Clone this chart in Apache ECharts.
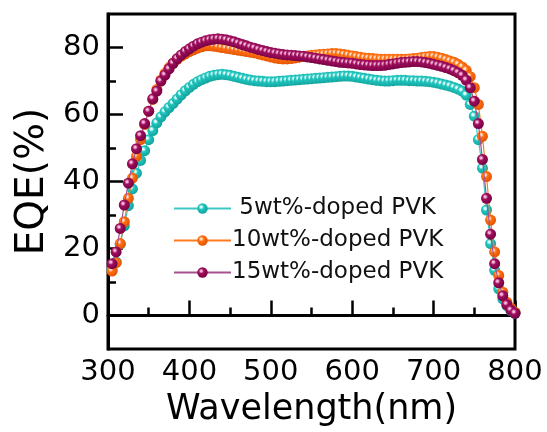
<!DOCTYPE html>
<html>
<head>
<meta charset="utf-8">
<script src="https://cdn.jsdelivr.net/npm/echarts@6/dist/echarts.min.js"></script>
<style>
html,body{margin:0;padding:0;background:#fff;}
#c{width:547px;height:432px;}
</style>
</head>
<body>
<div id="c"></div>
<script>
const wavelength = [305,310,315,320,325,330,335,340,345,350,355,360,365,370,375,380,385,390,395,400,
405,410,415,420,425,430,435,440,445,450,455,460,465,470,475,480,485,490,495,500,
505,510,515,520,525,530,535,540,545,550,555,560,565,570,575,580,585,590,595,600,
605,610,615,620,625,630,635,640,645,650,655,660,665,670,675,680,685,690,695,700,
705,710,715,720,725,730,735,740,745,750,755,760,765,770,775,780,785,790,795,800];

const eqe5 = [13.7,16,21.3,26.8,32.8,37.8,42.5,46.3,49.2,52.5,55.2,57.5,59.3,60.8,62.1,63.3,64.6,65.9,67.1,68.1,
69,69.8,70.4,70.9,71.4,71.7,71.9,72,71.9,71.7,71.4,71.1,70.8,70.5,70.3,70.1,70,69.9,69.8,69.8,
69.8,69.9,70,70.1,70.2,70.3,70.4,70.5,70.6,70.7,70.8,70.9,71,71.1,71.2,71.3,71.4,71.5,71.5,71.4,
71.2,71,70.8,70.6,70.4,70.2,70.1,70,70,70.1,70.2,70.2,70.2,70.1,70.1,70,70,69.9,69.8,69.6,
69.4,69.1,68.8,68.5,68.1,67.6,67,65.8,63,59.5,52.5,44,31.5,21.5,13.5,8,5,3,1.5,0.7];

const eqe10 = [13.3,15.8,21.5,28,35,41,47.5,52.5,57,61,64.5,67.5,70.3,72.3,74,75.3,76.5,77.4,78.1,78.8,
79.3,79.8,80.2,80.5,80.5,80.4,80.2,80,79.8,79.6,79.4,79.2,79,78.8,78.6,78.4,78.1,77.8,77.5,77.2,
76.9,76.7,76.6,76.6,76.7,76.9,77.1,77.3,77.5,77.7,77.8,77.9,78,78.1,78.2,78.2,78.1,77.9,77.7,77.5,
77.3,77.1,76.9,76.8,76.7,76.6,76.5,76.5,76.5,76.5,76.5,76.5,76.5,76.6,76.7,76.8,77,77.2,77.3,77.3,
77.1,76.8,76.4,76,75.6,75,74.2,73.2,71.3,68,63,53.5,41.5,28.5,19,12,7,4,2.2,1];

const eqe15 = [15.5,19,26,33,39.5,45.3,49.8,53.7,57.3,61,64.7,67,70,71.8,73.6,75.3,76.7,77.8,78.8,79.6,
80.4,81.1,81.6,82,82.3,82.5,82.6,82.5,82.3,82,81.7,81.3,80.9,80.5,80.1,79.8,79.4,79.1,78.8,78.5,
78.3,78.1,77.9,77.8,77.7,77.6,77.5,77.4,77.2,77,76.8,76.6,76.4,76.2,76,75.8,75.6,75.5,75.4,75.3,
75.1,74.9,74.8,74.7,74.6,74.6,74.6,74.7,74.9,75.1,75.3,75.5,75.6,75.7,75.8,75.8,75.7,75.5,75.3,75,
74.7,74.4,74,73.6,73.1,72.5,71.7,70.3,68,64,57.3,46.6,35,24.3,15.5,9.8,5.9,3.3,1.6,0.7];

const seriesNames = ['5wt%-doped PVK', '10wt%-doped PVK', '15wt%-doped PVK'];
const xTicks = [300, 400, 500, 600, 700, 800];
const yMajorTicks = [0, 20, 40, 60, 80];
const yMinorTicks = [10, 30, 50, 70];

const FONT = 'DejaVu Sans';

function ball(hi, base, dark) {
  return {
    type: 'radial', x: 0.38, y: 0.36, r: 0.64,
    colorStops: [
      {offset: 0, color: hi},
      {offset: 0.12, color: hi},
      {offset: 0.38, color: base},
      {offset: 1, color: dark}
    ]
  };
}

function pairs(ys) {
  return wavelength.map((x, i) => [x, ys[i]]);
}

const styles = [
  {line: '#3cc8c2', fill: ball('#e6fffd', '#22c6bf', '#10a49d')},
  {line: '#ff7a1e', fill: ball('#ffe2c8', '#ff6e12', '#e25500')},
  {line: '#a8508e', fill: ball('#f6b8dc', '#9e0f5c', '#780044')}
];
const dataSets = [eqe5, eqe10, eqe15];

const chart = echarts.init(document.getElementById('c'), null, {renderer: 'canvas'});
chart.setOption({
  animation: false,
  backgroundColor: '#fff',
  grid: {left: 108, right: 32, top: 14, bottom: 77, show: true, borderColor: '#000', borderWidth: 3},
  legend: {
    orient: 'vertical', left: 173, top: 197, padding: 0,
    itemWidth: 57, itemHeight: 13, itemGap: 9,
    textStyle: {fontFamily: FONT, fontSize: 23, color: '#111', lineHeight: 23, padding: [0, 0, 0, -4]},
    formatter: function (n) { return n === seriesNames[0] ? ' ' + n : n; },
    data: seriesNames
  },
  xAxis: {
    type: 'value', min: 300, max: 800, interval: 100,
    name: 'Wavelength(nm)', nameLocation: 'middle', nameGap: 40,
    nameTextStyle: {fontFamily: FONT, fontSize: 35, color: '#000'},
    axisLine: {show: true, lineStyle: {color: '#000', width: 3}},
    axisTick: {show: true, inside: true, length: 15, lineStyle: {color: '#000', width: 2.5}},
    minorTick: {show: true, splitNumber: 2, length: 8, lineStyle: {color: '#000', width: 2.5}},
    axisLabel: {fontFamily: FONT, fontSize: 29, color: '#000', margin: 9,
      customValues: xTicks},
    splitLine: {show: false}
  },
  yAxis: [{
    type: 'value', min: -10, max: 90, interval: 10,
    name: 'EQE(%)', nameLocation: 'middle', nameGap: 49,
    nameTextStyle: {fontFamily: FONT, fontSize: 39, color: '#000'},
    axisLine: {show: true, lineStyle: {color: '#000', width: 3}},
    axisTick: {show: true, inside: true, length: 15, lineStyle: {color: '#000', width: 2.5},
      customValues: yMajorTicks},
    axisLabel: {fontFamily: FONT, fontSize: 29, color: '#000', margin: 8,
      customValues: yMajorTicks},
    splitLine: {show: false}
  }, {
    type: 'value', min: -10, max: 90, interval: 10, position: 'left',
    axisLine: {show: false},
    axisTick: {show: true, inside: true, length: 8, lineStyle: {color: '#000', width: 2.5},
      customValues: yMinorTicks},
    axisLabel: {show: false},
    splitLine: {show: false}
  }],
  series: dataSets.map((d, i) => ({
    name: seriesNames[i],
    type: 'line',
    data: pairs(d),
    symbol: 'circle',
    symbolSize: 11,
    showSymbol: true,
    lineStyle: {color: styles[i].line, width: 1.2},
    itemStyle: {color: styles[i].fill},
    z: 2 + i
  }))
});
</script>
</body>
</html>
